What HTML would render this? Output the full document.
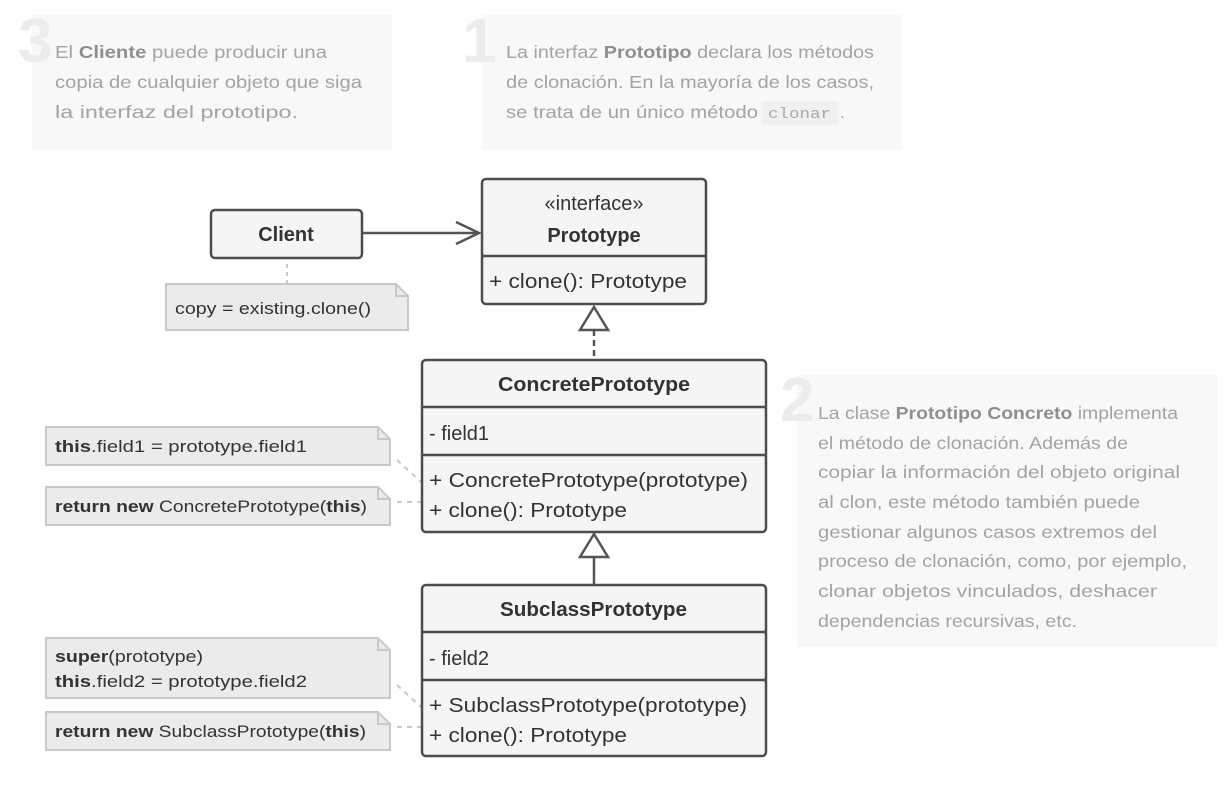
<!DOCTYPE html>
<html><head><meta charset="utf-8"><style>
html,body{margin:0;padding:0;background:#fff}
svg{display:block}
.p{font-family:"Liberation Sans",sans-serif;font-size:17.5px;fill:#a3a3a3}
.pb{font-weight:bold;fill:#8f8f8f}
.d{font-family:"Liberation Sans",sans-serif;font-size:20px;fill:#333}
.n{font-family:"Liberation Sans",sans-serif;font-size:17px;fill:#333}
.big{font-family:"Liberation Sans",sans-serif;font-weight:bold;font-size:62px;fill:#ececec}
.box{fill:#f5f5f5;stroke:#4d4d4d;stroke-width:2.5}
.note{fill:#ebebeb;stroke:#c8c8c8;stroke-width:2}
</style></head><body>
<svg width="1227" height="808" viewBox="0 0 1227 808" xmlns="http://www.w3.org/2000/svg">
<rect x="32" y="15" width="360" height="134" fill="#f8f8f8"/>
<rect x="482" y="15" width="420" height="135" fill="#f8f8f8"/>
<rect x="797" y="375" width="420" height="272" fill="#f8f8f8"/>
<text class="big" x="18" y="62">3</text>
<text class="big" x="462" y="62">1</text>
<text class="big" x="780" y="421">2</text>

<text class="p" x="55" y="58" textLength="272" lengthAdjust="spacingAndGlyphs">El <tspan class="pb">Cliente</tspan> puede producir una</text>
<text class="p" x="55" y="88" textLength="307" lengthAdjust="spacingAndGlyphs">copia de cualquier objeto que siga</text>
<text class="p" x="55" y="118" textLength="243" lengthAdjust="spacingAndGlyphs">la interfaz del prototipo.</text>

<text class="p" x="506" y="58" textLength="368" lengthAdjust="spacingAndGlyphs">La interfaz <tspan class="pb">Prototipo</tspan> declara los métodos</text>
<text class="p" x="506" y="88" textLength="368" lengthAdjust="spacingAndGlyphs">de clonación. En la mayoría de los casos,</text>
<text class="p" x="506" y="118" textLength="252" lengthAdjust="spacingAndGlyphs">se trata de un único método</text>
<rect x="762" y="101" width="76" height="24" rx="3" fill="#f0f0f0"/>
<text x="768" y="118" style="font-family:'Liberation Mono',monospace;font-size:15px;fill:#aaa" textLength="63" lengthAdjust="spacingAndGlyphs">clonar</text>
<text class="p" x="840" y="118">.</text>

<g class="p">
<text x="818" y="419" textLength="360" lengthAdjust="spacingAndGlyphs">La clase <tspan class="pb">Prototipo Concreto</tspan> implementa</text>
<text x="818" y="449" textLength="310" lengthAdjust="spacingAndGlyphs">el método de clonación. Además de</text>
<text x="818" y="478" textLength="362" lengthAdjust="spacingAndGlyphs">copiar la información del objeto original</text>
<text x="818" y="508" textLength="322" lengthAdjust="spacingAndGlyphs">al clon, este método también puede</text>
<text x="818" y="538" textLength="339" lengthAdjust="spacingAndGlyphs">gestionar algunos casos extremos del</text>
<text x="818" y="567" textLength="369" lengthAdjust="spacingAndGlyphs">proceso de clonación, como, por ejemplo,</text>
<text x="818" y="597" textLength="339" lengthAdjust="spacingAndGlyphs">clonar objetos vinculados, deshacer</text>
<text x="818" y="627" textLength="259" lengthAdjust="spacingAndGlyphs">dependencias recursivas, etc.</text>
</g>

<line x1="363" y1="233" x2="479" y2="233" stroke="#555" stroke-width="2.5"/>
<polyline points="456,222 479,233 456,244" fill="none" stroke="#555" stroke-width="2.5"/>
<line x1="287" y1="264" x2="287" y2="284" stroke="#c8c8c8" stroke-width="2" stroke-dasharray="4,4"/>
<line x1="594" y1="330" x2="594" y2="360" stroke="#555" stroke-width="2.5" stroke-dasharray="6,4"/>
<polygon points="594,307 580,330 608,330" fill="#fff" stroke="#555" stroke-width="2.5"/>
<line x1="594" y1="557" x2="594" y2="585" stroke="#555" stroke-width="2.5"/>
<polygon points="594,534 580,557 608,557" fill="#fff" stroke="#555" stroke-width="2.5"/>
<g stroke="#c8c8c8" stroke-width="2" stroke-dasharray="5,5" fill="none">
<line x1="397" y1="460" x2="421" y2="482"/>
<line x1="397" y1="502" x2="421" y2="502"/>
<line x1="397" y1="685" x2="421" y2="707"/>
<line x1="397" y1="727" x2="421" y2="727"/>
</g>

<rect class="box" x="211" y="210" width="151" height="48" rx="4"/>
<text class="d" x="286" y="241" text-anchor="middle" font-weight="bold">Client</text>

<rect class="box" x="482" y="179" width="224" height="125" rx="4"/>
<line x1="482" y1="256" x2="706" y2="256" stroke="#4d4d4d" stroke-width="2.5"/>
<text class="d" x="594" y="210" text-anchor="middle">«interface»</text>
<text class="d" x="594" y="242" text-anchor="middle" font-weight="bold">Prototype</text>
<text class="d" x="489" y="288" textLength="198" lengthAdjust="spacingAndGlyphs">+ clone(): Prototype</text>

<rect class="box" x="422" y="360" width="344" height="172" rx="4"/>
<line x1="422" y1="407" x2="766" y2="407" stroke="#4d4d4d" stroke-width="2.5"/>
<line x1="422" y1="455" x2="766" y2="455" stroke="#4d4d4d" stroke-width="2.5"/>
<text class="d" x="498" y="391" font-weight="bold" textLength="192" lengthAdjust="spacingAndGlyphs">ConcretePrototype</text>
<text class="d" x="429" y="440">- field1</text>
<text class="d" x="429" y="487" textLength="319" lengthAdjust="spacingAndGlyphs">+ ConcretePrototype(prototype)</text>
<text class="d" x="429" y="517" textLength="198" lengthAdjust="spacingAndGlyphs">+ clone(): Prototype</text>

<rect class="box" x="422" y="585" width="344" height="171" rx="4"/>
<line x1="422" y1="632" x2="766" y2="632" stroke="#4d4d4d" stroke-width="2.5"/>
<line x1="422" y1="680" x2="766" y2="680" stroke="#4d4d4d" stroke-width="2.5"/>
<text class="d" x="500" y="616" font-weight="bold" textLength="187" lengthAdjust="spacingAndGlyphs">SubclassPrototype</text>
<text class="d" x="429" y="665">- field2</text>
<text class="d" x="429" y="712" textLength="318" lengthAdjust="spacingAndGlyphs">+ SubclassPrototype(prototype)</text>
<text class="d" x="429" y="742" textLength="198" lengthAdjust="spacingAndGlyphs">+ clone(): Prototype</text>

<path class="note" d="M166,284 H396 L408,296 V330 H166 Z"/>
<path d="M396,284 V296 H408" fill="none" stroke="#c8c8c8" stroke-width="2"/>
<text class="n" x="175" y="314" textLength="196" lengthAdjust="spacingAndGlyphs">copy = existing.clone()</text>

<path class="note" d="M46,427 H378 L390,439 V465 H46 Z"/>
<path d="M378,427 V439 H390" fill="none" stroke="#c8c8c8" stroke-width="2"/>
<text class="n" x="55" y="452" textLength="252" lengthAdjust="spacingAndGlyphs"><tspan font-weight="bold">this</tspan>.field1 = prototype.field1</text>

<path class="note" d="M46,487 H378 L390,499 V525 H46 Z"/>
<path d="M378,487 V499 H390" fill="none" stroke="#c8c8c8" stroke-width="2"/>
<text class="n" x="55" y="512" textLength="312" lengthAdjust="spacingAndGlyphs"><tspan font-weight="bold">return new</tspan> ConcretePrototype(<tspan font-weight="bold">this</tspan>)</text>

<path class="note" d="M46,638 H378 L390,650 V698 H46 Z"/>
<path d="M378,638 V650 H390" fill="none" stroke="#c8c8c8" stroke-width="2"/>
<text class="n" x="55" y="662" textLength="148" lengthAdjust="spacingAndGlyphs"><tspan font-weight="bold">super</tspan>(prototype)</text>
<text class="n" x="55" y="687" textLength="252" lengthAdjust="spacingAndGlyphs"><tspan font-weight="bold">this</tspan>.field2 = prototype.field2</text>

<path class="note" d="M46,712 H378 L390,724 V750 H46 Z"/>
<path d="M378,712 V724 H390" fill="none" stroke="#c8c8c8" stroke-width="2"/>
<text class="n" x="55" y="737" textLength="311" lengthAdjust="spacingAndGlyphs"><tspan font-weight="bold">return new</tspan> SubclassPrototype(<tspan font-weight="bold">this</tspan>)</text>
</svg>
</body></html>
